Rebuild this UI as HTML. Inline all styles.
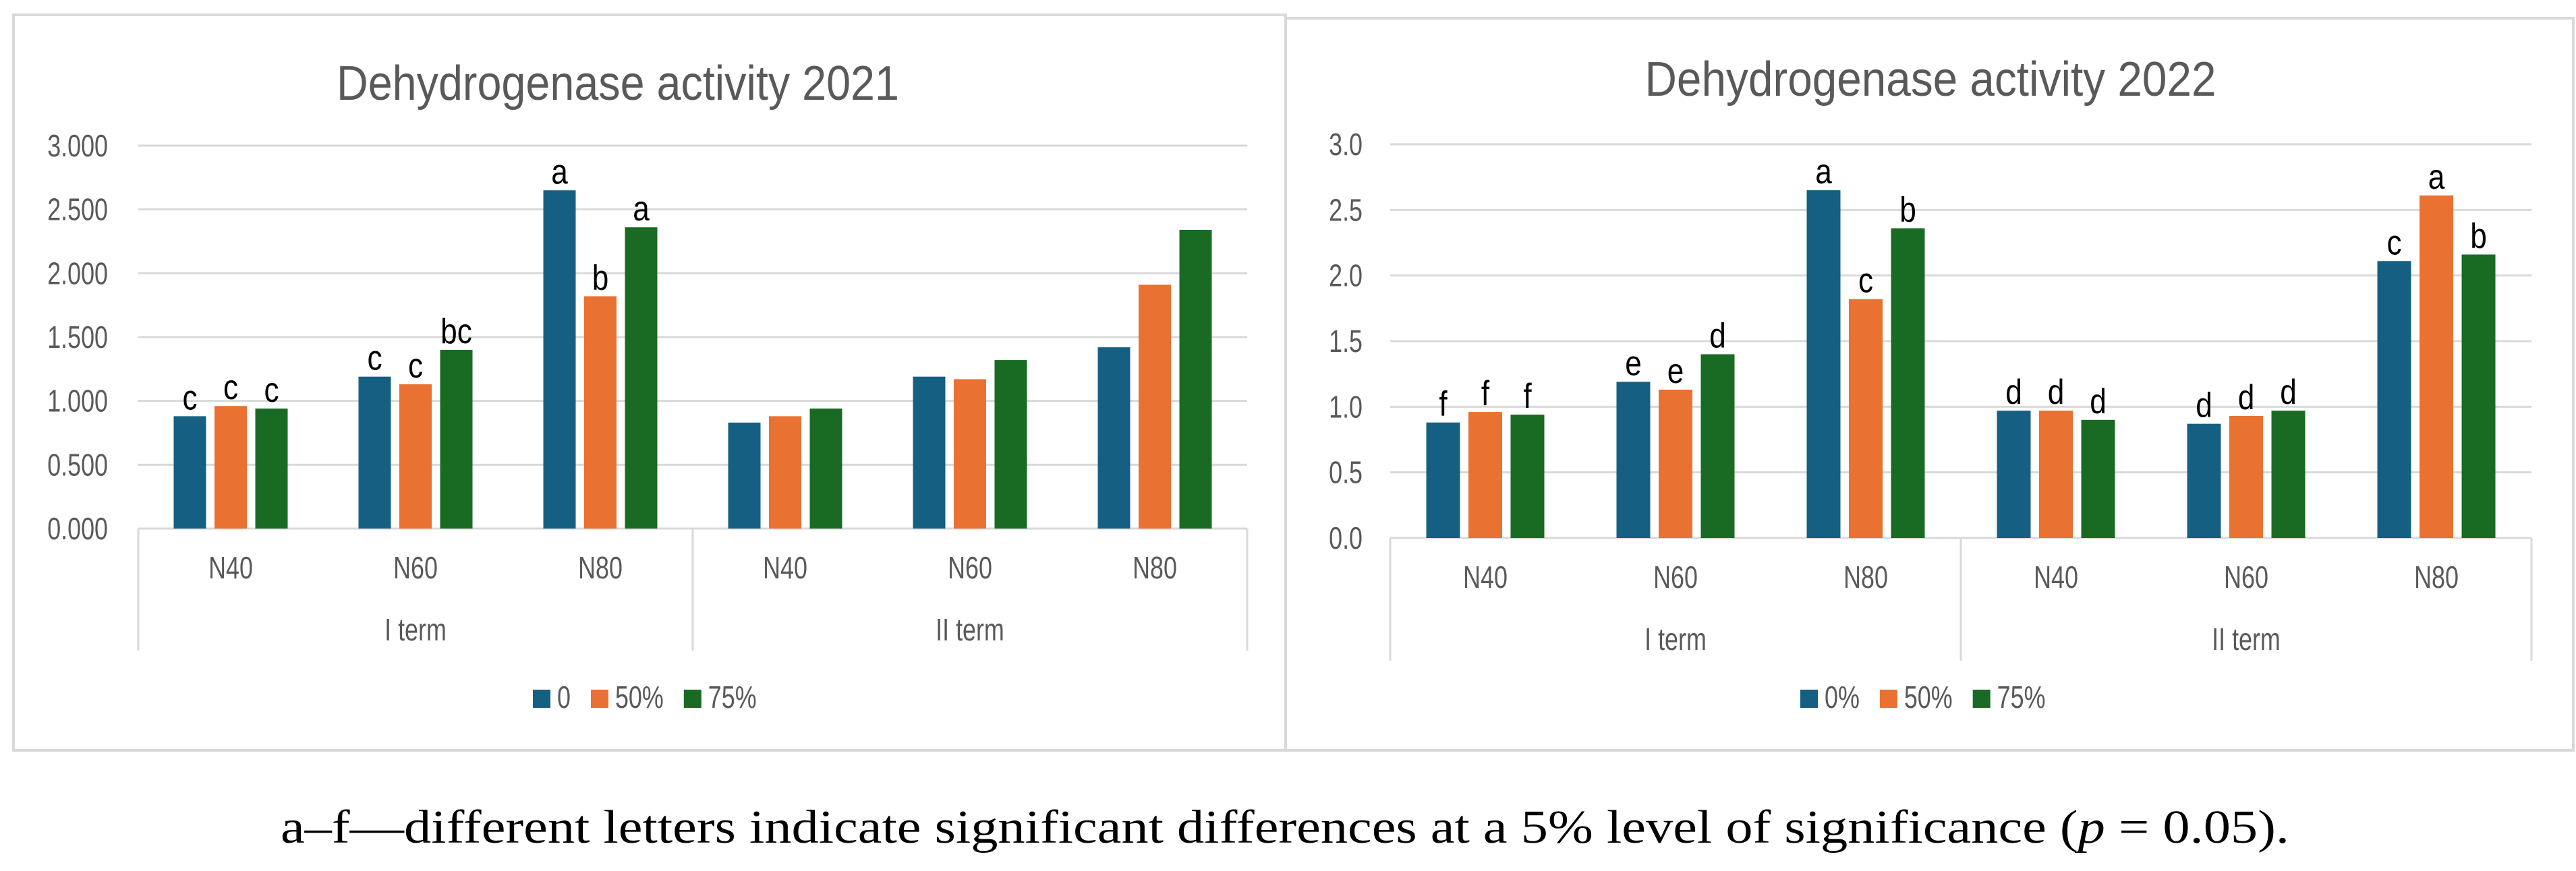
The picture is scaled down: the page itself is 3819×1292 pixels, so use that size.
<!DOCTYPE html>
<html><head><meta charset="utf-8">
<style>
html,body{margin:0;padding:0;background:#fff;}
svg{display:block;}
.t{font-family:"Liberation Sans",sans-serif;fill:#595959;}
.lt{font-family:"Liberation Sans",sans-serif;fill:#000;}
</style></head>
<body>
<svg id="fig" width="3819" height="1292" viewBox="0 0 3819 1292" xmlns="http://www.w3.org/2000/svg">
<rect x="0" y="0" width="3819" height="1292" fill="#fff"/>
<g id="c1"></g>
<g id="c2"></g>
<text x="416" y="1250" textLength="2978" lengthAdjust="spacingAndGlyphs" style="font-family:'Liberation Serif',serif;font-size:70px;fill:#000;">a–f—different letters indicate significant differences at a 5% level of significance (<tspan font-style="italic">p</tspan> = 0.05).</text>
</svg>
<script>
const groups = ["N40","N60","N80","N40","N60","N80"];
const terms = ["I term","II term"];
const series2021 = ["0","50%","75%"];
const series2022 = ["0%","50%","75%"];
const ticks2021 = ["0.000","0.500","1.000","1.500","2.000","2.500","3.000"];
const ticks2022 = ["0.0","0.5","1.0","1.5","2.0","2.5","3.0"];
const tickValues = [0,0.5,1,1.5,2,2.5,3];
const v2021_0 = [0.88,1.19,2.65,0.83,1.19,1.42];
const v2021_50 = [0.96,1.13,1.82,0.88,1.17,1.91];
const v2021_75 = [0.94,1.40,2.36,0.94,1.32,2.34];
const l2021_0 = ["c","c","a","","",""];
const l2021_50 = ["c","c","b","","",""];
const l2021_75 = ["c","bc","a","","",""];
const v2022_0 = [0.88,1.19,2.65,0.97,0.87,2.11];
const v2022_50 = [0.96,1.13,1.82,0.97,0.93,2.61];
const v2022_75 = [0.94,1.40,2.36,0.90,0.97,2.16];
const l2022_0 = ["f","e","a","d","d","c"];
const l2022_50 = ["f","e","c","d","d","a"];
const l2022_75 = ["f","d","b","d","d","b"];
const colors = ["#156082","#E97132","#196B24"];
const NS="http://www.w3.org/2000/svg";
function mk(tag, attrs, parent){const e=document.createElementNS(NS,tag);for(const k in attrs)e.setAttribute(k,attrs[k]);parent.appendChild(e);return e;}
function narrow(el,f){const L=el.getComputedTextLength();el.setAttribute('textLength',L*f);el.setAttribute('lengthAdjust','spacingAndGlyphs');return L*f;}
function draw(g, cfg){
  const {fx,fy,fw,fh,x0,x1,yTop,yBot,title,titleX,titleY,titleW,ticks,series,vals,labs,tickX,nY,termY,vBot,legX,barW,pitch}=cfg;
  const fr=mk('rect',{x:fx,y:fy,width:fw,height:fh,fill:'#fff',stroke:'#d9d9d9','stroke-width':4},g);
  
  
  const ys=v=>yBot-(v/3)*(yBot-yTop);
  const gw=(x1-x0)/groups.length;
  const tt=mk('text',{x:titleX,y:titleY,'text-anchor':'middle','font-size':72,class:'t',textLength:titleW,lengthAdjust:'spacingAndGlyphs'},g);tt.textContent=title;
  
  
  tickValues.forEach((v,i)=>{
    if(i>0){const gl=mk('line',{x1:x0,x2:x1,y1:ys(v),y2:ys(v),stroke:'#d9d9d9','stroke-width':3},g);
      
      }
    const tl=mk('text',{x:tickX,y:ys(v)+16,'text-anchor':'end','font-size':46,class:'t'},g);tl.textContent=ticks[i];
    
    
    narrow(tl,0.78);
  });
  const ax=mk('line',{x1:x0,x2:x1,y1:yBot,y2:yBot,stroke:'#d9d9d9','stroke-width':3},g);
  
  
  [0,3,6].forEach(k=>{const vl=mk('line',{x1:x0+k*gw,x2:x0+k*gw,y1:yBot,y2:vBot,stroke:'#d9d9d9','stroke-width':3},g);
    
    });
  groups.forEach((c,i)=>{
    const cx=x0+gw*(i+0.5);
    vals.forEach((arr,s)=>{
      const bx=cx+(s-1)*pitch-barW/2;const v=arr[i];
      const r=mk('rect',{x:bx,y:ys(v),width:barW,height:yBot-ys(v),fill:colors[s]},g);
      
      
      if(labs[s][i]){const lt=mk('text',{x:bx+barW/2,y:ys(v)-10,'text-anchor':'middle','font-size':52,class:'lt'},g);lt.textContent=labs[s][i];
        
        
        narrow(lt,0.85);}
    });
    const nl=mk('text',{x:cx,y:nY,'text-anchor':'middle','font-size':46,class:'t'},g);nl.textContent=c;
    
    
    narrow(nl,0.78);
  });
  terms.forEach((t,k)=>{const tl=mk('text',{x:x0+gw*(3*k+1.5),y:termY,'text-anchor':'middle','font-size':46,class:'t'},g);tl.textContent=t;
    
    
    narrow(tl,0.78);});
  let lx=legX;
  series.forEach((s,i)=>{
    const sq=mk('rect',{x:lx,y:1023,width:26,height:27,fill:colors[i]},g);
    
    
    const lt=mk('text',{x:lx+36,y:1050,'font-size':46,class:'t'},g);lt.textContent=s;
    
    
    const w=narrow(lt,0.78);
    lx+=36+w+30;
  });
}
draw(document.getElementById('c1'),{fx:20,fy:22,fw:1886,fh:1091,x0:205,x1:1849,yTop:216,yBot:784,title:'Dehydrogenase activity 2021',titleX:916,titleY:148,titleW:834,ticks:ticks2021,series:series2021,vals:[v2021_0,v2021_50,v2021_75],labs:[l2021_0,l2021_50,l2021_75],tickX:160,nY:858,termY:950,vBot:965,legX:790,barW:48,pitch:60.5});
draw(document.getElementById('c2'),{fx:1906,fy:27,fw:1909,fh:1086,x0:2061,x1:3753,yTop:214,yBot:798,title:'Dehydrogenase activity 2022',titleX:2862,titleY:142,titleW:847,ticks:ticks2022,series:series2022,vals:[v2022_0,v2022_50,v2022_75],labs:[l2022_0,l2022_50,l2022_75],tickX:2020,nY:872,termY:964,vBot:980,legX:2669,barW:50,pitch:62.5});
</script>
</body></html>
